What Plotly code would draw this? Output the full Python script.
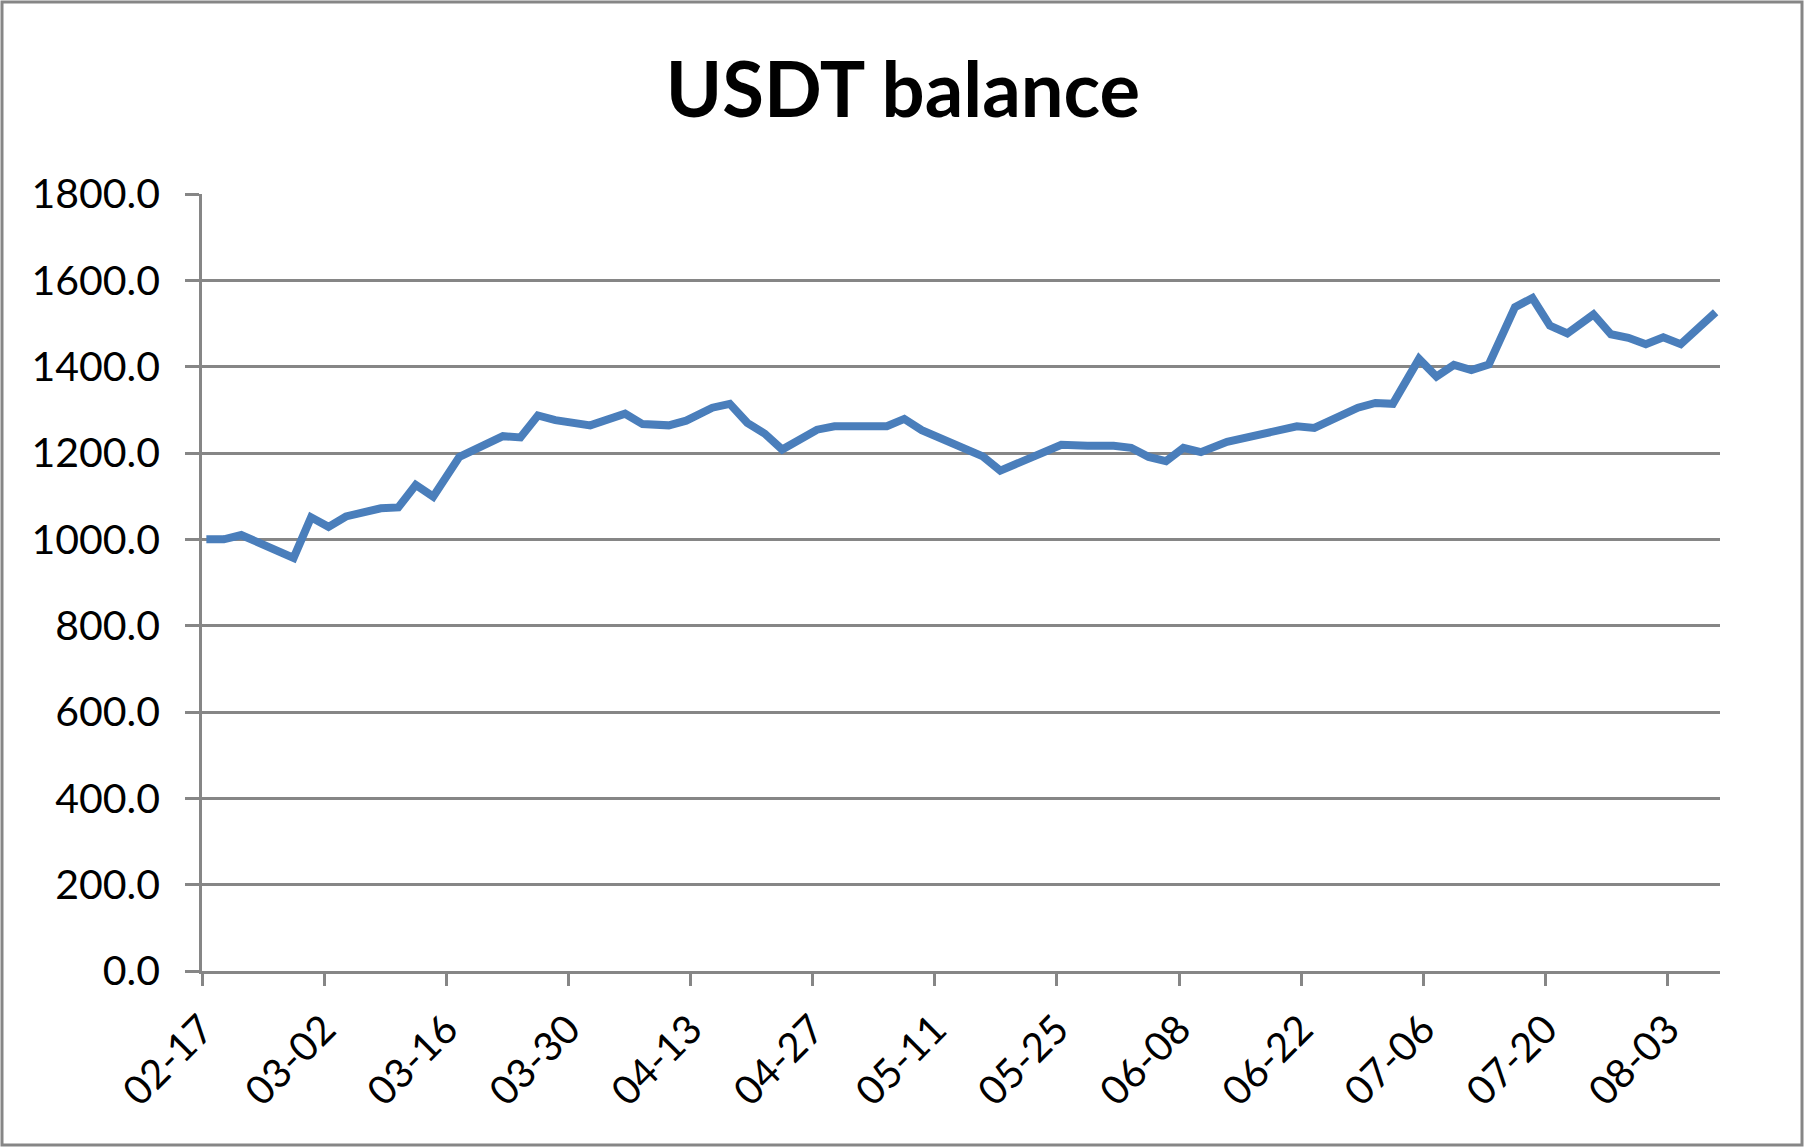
import plotly.graph_objects as go

# ---- data ----
dates = [
    "2024-02-17", "2024-02-19", "2024-02-21", "2024-02-27", "2024-02-29",
    "2024-03-02", "2024-03-04", "2024-03-08", "2024-03-10", "2024-03-12",
    "2024-03-14", "2024-03-17", "2024-03-22", "2024-03-24", "2024-03-26",
    "2024-03-28", "2024-04-01", "2024-04-05", "2024-04-07", "2024-04-10",
    "2024-04-12", "2024-04-15", "2024-04-17", "2024-04-19", "2024-04-21",
    "2024-04-23", "2024-04-27", "2024-04-29", "2024-05-05", "2024-05-07",
    "2024-05-09", "2024-05-16", "2024-05-18", "2024-05-20", "2024-05-25",
    "2024-05-28", "2024-05-31", "2024-06-02", "2024-06-04", "2024-06-06",
    "2024-06-08", "2024-06-10", "2024-06-13", "2024-06-21", "2024-06-23",
    "2024-06-28", "2024-06-30", "2024-07-02", "2024-07-05", "2024-07-07",
    "2024-07-09", "2024-07-11", "2024-07-13", "2024-07-16", "2024-07-18",
    "2024-07-20", "2024-07-22", "2024-07-25", "2024-07-27", "2024-07-29",
    "2024-07-31", "2024-08-02", "2024-08-04", "2024-08-08",
]
balance = [
    1000, 1000, 1010, 957, 1051,
    1029, 1053, 1072, 1074, 1126,
    1099, 1191, 1239, 1236, 1287,
    1276, 1264, 1291, 1267, 1264,
    1275, 1305, 1314, 1270, 1245,
    1208, 1254, 1262, 1262, 1279,
    1253, 1192, 1159, 1175, 1219,
    1217, 1217, 1212, 1191, 1181,
    1212, 1202, 1226, 1262, 1258,
    1305, 1316, 1314, 1418, 1377,
    1404, 1392, 1405, 1538, 1559,
    1495, 1477, 1521, 1475, 1467,
    1452, 1468, 1452, 1526,
]
title_text = "USDT balance"
x_start, x_end = "2024-02-17", "2024-08-09"
y_min, y_max, y_step = 0, 1800, 200

# ---- layout geometry ----
W, H = 1806, 1147
ml, mr, mt, mb = 202, 86, 194, 176
pw, ph = W - ml - mr, H - mt - mb

GRAY = "#868686"
FONT = "Lato, Calibri, Carlito, sans-serif"

fig = go.Figure()
fig.add_trace(go.Scatter(
    x=dates, y=balance, mode="lines",
    xperiod=86400000, xperiodalignment="middle",
    line=dict(color="#4A7EBB", width=8),
    showlegend=False, hoverinfo="x+y",
))

fig.update_layout(
    width=W, height=H,
    margin=dict(l=ml, r=mr, t=mt, b=mb, pad=0),
    paper_bgcolor="white", plot_bgcolor="white",
    title=dict(text=f"<b>{title_text}</b>", x=0.5, xref="container", xanchor="center",
               y=1 - 90 / H, yref="container", yanchor="middle",
               font=dict(family=FONT, size=76, color="black")),
    font=dict(family=FONT, color="black"),
    xaxis=dict(
        type="date", range=[x_start, x_end],
        tick0=x_start, dtick=14 * 86400000, tickformat="%m-%d",
        tickangle=-45, tickfont=dict(size=40, color="black"),
        ticklabelstandoff=4,
        showgrid=False, zeroline=False,
        showline=True, linecolor=GRAY, linewidth=2.5,
        ticks="outside", ticklen=12, tickwidth=2.5, tickcolor=GRAY,
    ),
    yaxis=dict(
        range=[y_min, y_max], dtick=y_step, tick0=0, tickformat=".1f",
        tickfont=dict(size=41, color="black"),
        ticklabelstandoff=17,
        showgrid=True, gridcolor=GRAY, gridwidth=2.5, zeroline=False,
        showline=True, linecolor=GRAY, linewidth=2.5,
        ticks="outside", ticklen=14, tickwidth=2.5, tickcolor=GRAY,
    ),
)

# outer chart border (Excel chart-area frame)
fig.add_shape(type="rect", xref="paper", yref="paper", layer="below",
              x0=(2 - ml) / pw, x1=(W - 4 - ml) / pw,
              y0=(H - mb - (H - 2)) / ph, y1=(H - mb - 2) / ph,
              line=dict(color=GRAY, width=3), fillcolor="rgba(0,0,0,0)")

fig.write_html("out.html",
               config={"displayModeBar": False},
               post_script="document.body.style.margin='0';document.body.style.padding='0';")
